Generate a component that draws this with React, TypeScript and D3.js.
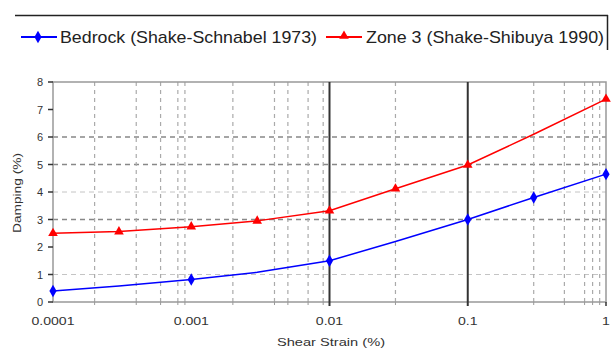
import React from "react";
import * as d3 from "d3";

const bedrockX = [0.0001, 0.0003, 0.001, 0.003, 0.01, 0.03, 0.1, 0.3, 1];
const bedrockY = [0.4, 0.58, 0.82, 1.08, 1.5, 2.2, 3.0, 3.8, 4.65];
const bedrockMarked = [true, false, true, false, true, false, true, true, true];

const zoneX = [0.0001, 0.0003, 0.001, 0.003, 0.01, 0.03, 0.1, 0.3, 1];
const zoneY = [2.5, 2.56, 2.74, 2.95, 3.32, 4.12, 4.98, 6.1, 7.38];
const zoneMarked = [true, true, true, true, true, true, true, false, true];

const xTicks = [0.0001, 0.001, 0.01, 0.1, 1];
const xTickLabels = ["0.0001", "0.001", "0.01", "0.1", "1"];
const xMinorGrid = [0.0002, 0.0004, 0.0006, 0.0008, 0.0009, 0.002, 0.004, 0.005, 0.007, 0.009, 0.03, 0.3, 0.5, 0.7, 0.8, 0.9];
const xMajorGrid = [0.01, 0.1];
const yTicks = [0, 1, 2, 3, 4, 5, 6, 7, 8];
const yGridDark = [3, 5, 6];
const yGridLight = [1, 4];

const seriesNames = ["Bedrock (Shake-Schnabel 1973)", "Zone 3 (Shake-Shibuya 1990)"];

const W = 613, H = 349;
const M = { left: 53, right: 606, top: 82, bottom: 302 };
const FONT = "'Liberation Sans', Arial, sans-serif";

export default function App() {
  const x = d3.scaleLog().domain([0.0001, 1]).range([M.left, M.right]);
  const y = d3.scaleLinear().domain([0, 8]).range([M.bottom, M.top]);
  const line = d3.line<[number, number]>().x(d => x(d[0])).y(d => y(d[1]));
  const bedrock = bedrockX.map((v, i) => [v, bedrockY[i]] as [number, number]);
  const zone = zoneX.map((v, i) => [v, zoneY[i]] as [number, number]);
  const diamond = d3.symbol().type(d3.symbolDiamond).size(45)() as string;
  const triangle = d3.symbol().type(d3.symbolTriangle).size(40)() as string;

  return (
    <svg width={W} height={H} style={{ position: "absolute", left: 0, top: 0, background: "#fff" }} fontFamily={FONT}>
      {/* Legend */}
      <g>
        <line x1={15} x2={608} y1={15.5} y2={15.5} stroke="#222" strokeWidth={1.5} />
        <line x1={607.5} x2={607.5} y1={15} y2={50} stroke="#222" strokeWidth={1.5} />
        <line x1={21} x2={57} y1={37} y2={37} stroke="#00f" strokeWidth={2} />
        <path d={diamond} transform="translate(38,37)" fill="#00f" />
        <text x={60} y={43} fontSize={17} fill="#222" textLength={257} lengthAdjust="spacingAndGlyphs">{seriesNames[0]}</text>
        <line x1={326} x2={362} y1={37} y2={37} stroke="#f00" strokeWidth={2} />
        <path d={triangle} transform="translate(344,36)" fill="#f00" />
        <text x={366} y={43} fontSize={17} fill="#222" textLength={238} lengthAdjust="spacingAndGlyphs">{seriesNames[1]}</text>
      </g>

      {/* Grid */}
      {yGridLight.map(v => (
        <line key={"gl" + v} x1={M.left} x2={M.right} y1={y(v)} y2={y(v)} stroke="#c4c4c4" strokeWidth={1} strokeDasharray="5,4" />
      ))}
      {yGridDark.map(v => (
        <line key={"gd" + v} x1={M.left} x2={M.right} y1={y(v)} y2={y(v)} stroke="#888" strokeWidth={1.5} strokeDasharray="5,4" />
      ))}
      {xMinorGrid.map(v => (
        <line key={"vx" + v} x1={x(v)} x2={x(v)} y1={M.top} y2={M.bottom} stroke="#aaa" strokeWidth={1.2} strokeDasharray="4,4" />
      ))}

      {/* Frame */}
      <rect x={M.left} y={M.top} width={M.right - M.left} height={M.bottom - M.top} fill="none" stroke="#999" strokeWidth={1.5} />
      {xMajorGrid.map(v => (
        <line key={"mj" + v} x1={x(v)} x2={x(v)} y1={M.top} y2={M.bottom + 4} stroke="#333" strokeWidth={2} />
      ))}
      <line x1={x(1)} x2={x(1)} y1={M.bottom} y2={M.bottom + 4} stroke="#333" strokeWidth={1.5} />

      {/* Y ticks */}
      {yTicks.map(v => (
        <g key={"yt" + v}>
          <line x1={M.left - 5} x2={M.left} y1={y(v)} y2={y(v)} stroke="#333" strokeWidth={1.5} />
          <text x={43} y={y(v) + 4} fontSize={11} textAnchor="end" fill="#333">{v}</text>
        </g>
      ))}
      <text transform={`translate(21,${(M.top + M.bottom) / 2 + 1}) rotate(-90)`} fontSize={11} textAnchor="middle" fill="#333" textLength={80} lengthAdjust="spacingAndGlyphs">Damping (%)</text>

      {/* X ticks */}
      {xMinorGrid.map(v => (
        <line key={"xm" + v} x1={x(v)} x2={x(v)} y1={M.bottom} y2={M.bottom + 3} stroke="#999" strokeWidth={1} />
      ))}
      {xTicks.map((v, i) => (
        <text key={"xt" + v} transform={`translate(${x(v)},324.5) scale(1.28,1)`} fontSize={11} textAnchor="middle" fill="#333">{xTickLabels[i]}</text>
      ))}
      <text x={331} y={346} fontSize={11} textAnchor="middle" fill="#333" textLength={108} lengthAdjust="spacingAndGlyphs">Shear Strain (%)</text>

      {/* Series */}
      <path d={line(zone) as string} fill="none" stroke="#f00" strokeWidth={1.5} />
      <path d={line(bedrock) as string} fill="none" stroke="#00f" strokeWidth={1.5} />
      {zone.map((d, i) => zoneMarked[i] && (
        <path key={"zm" + i} d={triangle} transform={`translate(${x(d[0])},${y(d[1])})`} fill="#f00" />
      ))}
      {bedrock.map((d, i) => bedrockMarked[i] && (
        <path key={"bm" + i} d={diamond} transform={`translate(${x(d[0])},${y(d[1])})`} fill="#00f" />
      ))}
    </svg>
  );
}
